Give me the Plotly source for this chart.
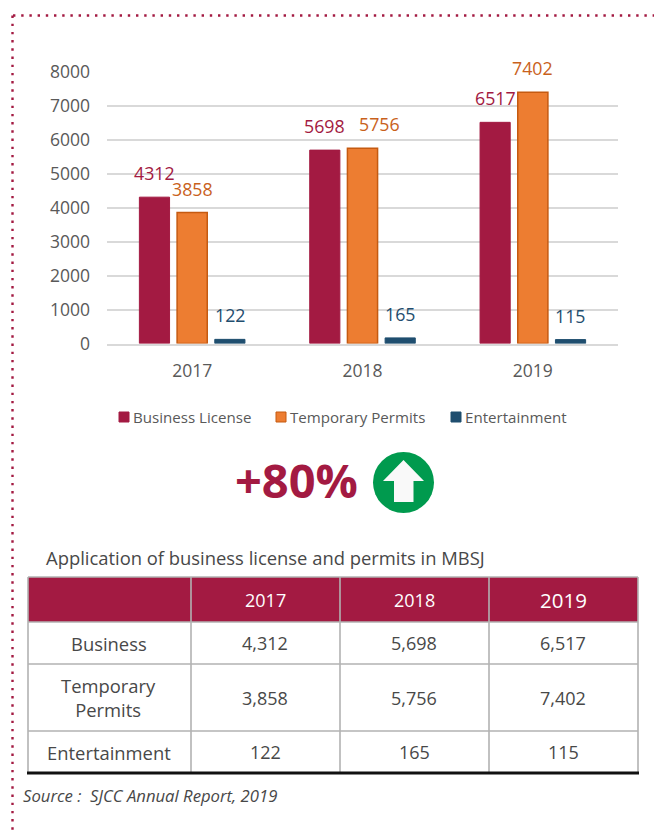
import plotly.graph_objects as go

# ---- data ----
years = ["2017", "2018", "2019"]
business = [4312, 5698, 6517]
temporary = [3858, 5756, 7402]
entertainment = [122, 165, 115]
series_names = ["Business License", "Temporary Permits", "Entertainment"]
row_labels = ["Business", "Temporary<br>Permits", "Entertainment"]
headline = "+80%"
table_title = "Application of business license and permits in MBSJ"
source_note = "Source :  SJCC Annual Report, 2019"

# ---- style ----
W, H = 654, 833
FONT = "Open Sans"
CRIMSON = "#a31a42"
ORANGE = "#ed7d31"
ORANGE_EDGE = "#c55a11"
NAVY = "#1f4e6f"
GRID = "#d9d9d9"
TABLE_LINE = "#b2b2b2"
TEXT = "#484848"


def px(x):
    return x / W


def py(y):
    return 1 - y / H


fig = go.Figure()
fig.add_bar(name=series_names[0], x=years, y=business,
            marker=dict(color=CRIMSON, line=dict(color=CRIMSON, width=1)))
fig.add_bar(name=series_names[1], x=years, y=temporary,
            marker=dict(color=ORANGE, line=dict(color=ORANGE_EDGE, width=1.5)))
fig.add_bar(name=series_names[2], x=years, y=entertainment,
            marker=dict(color=NAVY, line=dict(color=NAVY, width=1)))

annotations = []
shapes = []


def note(x, y, text, size, color=TEXT, anchor="center", bold=False, italic=False):
    if bold:
        text = f"<b>{text}</b>"
    if italic:
        text = f"<i>{text}</i>"
    annotations.append(dict(x=px(x), y=py(y), xref="paper", yref="paper", text=text,
                            showarrow=False, xanchor=anchor, yanchor="middle",
                            font=dict(family=FONT, size=size, color=color)))


# data labels
series = [
    (business, CRIMSON, [-38, -38, -37]),
    (temporary, "#c9611c", [0, 17, 0]),
    (entertainment, NAVY, [38, 38, 38]),
]
for values, color, shifts in series:
    for i, (v, dx) in enumerate(zip(values, shifts)):
        annotations.append(dict(x=i, y=v, xref="x", yref="y", text=str(v),
                                showarrow=False, xanchor="center", yanchor="middle",
                                xshift=dx, yshift=24,
                                font=dict(family=FONT, size=17.8, color=color)))

# legend row
legend_x = [119, 276, 451]
legend_fill = [CRIMSON, ORANGE, NAVY]
legend_edge = [CRIMSON, ORANGE_EDGE, NAVY]
for name, x0, fill, edge in zip(series_names, legend_x, legend_fill, legend_edge):
    shapes.append(dict(type="rect", xref="paper", yref="paper", x0=px(x0), x1=px(x0 + 10),
                       y0=py(412), y1=py(422), fillcolor=fill, line=dict(color=edge, width=1)))
    note(x0 + 11.5, 417, name, 15.1, "#595959", anchor="left")

# dotted page border
dots = dict(color=CRIMSON, width=2.4, dash="2.4px,5.8px")
shapes.append(dict(type="line", xref="paper", yref="paper", x0=px(13), x1=1,
                   y0=py(15.5), y1=py(15.5), line=dots))
shapes.append(dict(type="line", xref="paper", yref="paper", x0=px(12.5), x1=px(12.5),
                   y0=py(15.5), y1=0, line=dots))

# headline and arrow badge
note(296.5, 480, headline, 47, CRIMSON, bold=True)
shapes.append(dict(type="circle", xref="paper", yref="paper", x0=px(373), x1=px(434),
                   y0=py(452), y1=py(513), fillcolor="#009a4e", line=dict(width=0)))
arrow = [(403.5, 460), (424, 481), (413.5, 481), (413.5, 502), (394, 502), (394, 481), (383, 481)]
path = "M" + " L".join(f"{px(a):.5f},{py(b):.5f}" for a, b in arrow) + " Z"
shapes.append(dict(type="path", xref="paper", yref="paper", path=path,
                   fillcolor="#f9f9f9", line=dict(width=0)))

# table
note(43.5, 557, table_title, 18.4, TEXT, anchor="left")
xs = [28, 191, 340, 489, 638]
ys = [577, 622, 664, 731, 773]
shapes.append(dict(type="rect", xref="paper", yref="paper", x0=px(xs[0]), x1=px(xs[-1]),
                   y0=py(ys[0]), y1=py(ys[1]), fillcolor=CRIMSON, line=dict(width=0), layer="below"))
for x in xs:
    shapes.append(dict(type="line", xref="paper", yref="paper", x0=px(x), x1=px(x),
                       y0=py(ys[0]), y1=py(ys[-1]), line=dict(color=TABLE_LINE, width=1.6)))
for y in ys[:-1]:
    shapes.append(dict(type="line", xref="paper", yref="paper", x0=px(xs[0]), x1=px(xs[-1]),
                       y0=py(y), y1=py(y), line=dict(color=TABLE_LINE, width=1.6)))
shapes.append(dict(type="line", xref="paper", yref="paper", x0=px(27), x1=px(xs[-1] + 1),
                   y0=py(ys[-1]), y1=py(ys[-1]), line=dict(color="#111111", width=3)))

centers_x = [(xs[i] + xs[i + 1]) / 2 for i in range(4)]
centers_y = [(ys[i] + ys[i + 1]) / 2 for i in range(4)]
for i, year in enumerate(years):
    note(centers_x[i + 1] - 0.5, centers_y[0], year, 20.5 if i == 2 else 18, "white")
for r, (label, vals) in enumerate(zip(row_labels, [business, temporary, entertainment])):
    note(centers_x[0] - 1, centers_y[r + 1], label, 18.4, TEXT)
    for c, v in enumerate(vals):
        note(centers_x[c + 1] - 0.5, centers_y[r + 1], f"{v:,}", 18, TEXT)

note(20.5, 795, source_note, 16.7, TEXT, anchor="left", italic=True)

fig.update_layout(
    width=W, height=H, autosize=False,
    margin=dict(l=0, r=0, t=0, b=0, autoexpand=False),
    paper_bgcolor="white", plot_bgcolor="white",
    barmode="group", bargap=0.336, bargroupgap=0.2,
    showlegend=False,
    font=dict(family=FONT, color="#595959"),
    xaxis=dict(domain=[px(107), px(618)], type="category", range=[-0.5, 2.5],
               categoryorder="array", categoryarray=years, showgrid=False,
               showline=True, linecolor=GRID, linewidth=2, ticks="",
               ticklabelstandoff=10, tickfont=dict(family=FONT, size=17.5, color="#595959")),
    yaxis=dict(domain=[py(343.5), py(72)], range=[0, 8000], dtick=1000,
               gridcolor=GRID, gridwidth=2, zeroline=False, showline=False, ticks="",
               ticklabelstandoff=16, tickfont=dict(family=FONT, size=17.5, color="#595959")),
    annotations=annotations, shapes=shapes,
)

fig.write_html("out.html", config=dict(displayModeBar=False),
               post_script="document.body.style.margin='0';")
